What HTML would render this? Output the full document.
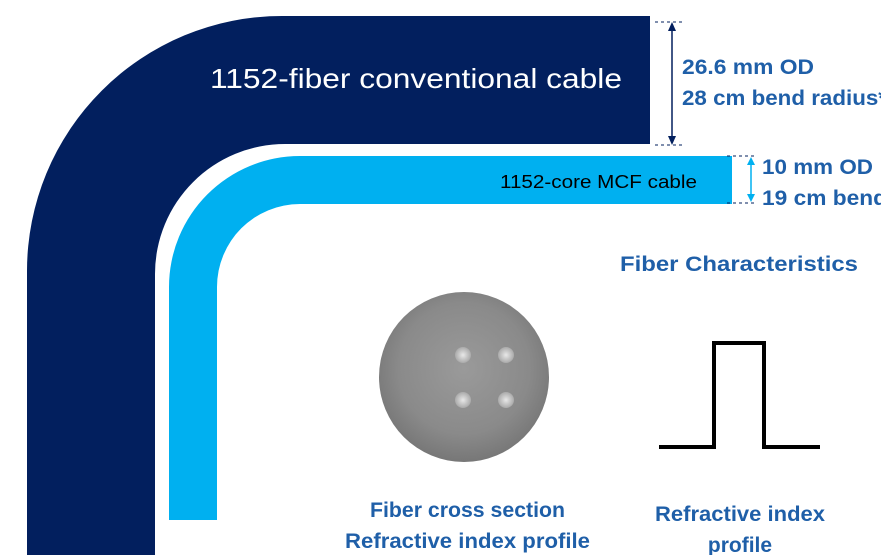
<!DOCTYPE html>
<html><head><style>
body{margin:0;background:#fff;}
svg{display:block;font-family:"Liberation Sans",sans-serif;}
.b{fill:#1f5fa8;font-weight:bold;font-size:21px;}
</style></head><body>
<svg width="881" height="555" viewBox="0 0 881 555">
<defs>
<radialGradient id="g" cx="0.5" cy="0.45" r="0.55">
<stop offset="0" stop-color="#9a9a9a"/><stop offset="0.7" stop-color="#8a8a8a"/><stop offset="1" stop-color="#777"/>
</radialGradient>
<radialGradient id="c"><stop offset="0" stop-color="#e8e8e8"/><stop offset="1" stop-color="#aaa"/></radialGradient>
</defs>
<path d="M650,16 H282 A255,255 0 0 0 27,271 V555 H155 V274 A130,130 0 0 1 285,144 H650 Z" fill="#021f5e"/>
<path d="M732,156 H300 A131,131 0 0 0 169,287 V520 H217 V287 A83,83 0 0 1 300,204 H732 Z" fill="#00b0f0"/>
<text x="210" y="88" fill="#fff" font-size="28" textLength="412" lengthAdjust="spacingAndGlyphs">1152-fiber conventional cable</text>
<text x="500" y="188" fill="#000" font-size="18" textLength="197" lengthAdjust="spacingAndGlyphs">1152-core MCF cable</text>
<g stroke="#021f5e" stroke-width="1" stroke-dasharray="3,3"><line x1="655" y1="22" x2="684" y2="22"/><line x1="655" y1="145" x2="684" y2="145"/></g>
<line x1="672" y1="28" x2="672" y2="138" stroke="#021f5e" stroke-width="1.5"/>
<polygon points="672,22 668,31 676,31" fill="#021f5e"/><polygon points="672,145 668,136 676,136" fill="#021f5e"/>
<g stroke="#021f5e" stroke-width="1" stroke-dasharray="3,3"><line x1="727" y1="156" x2="754" y2="156"/><line x1="727" y1="203" x2="754" y2="203"/></g>
<line x1="751" y1="162" x2="751" y2="197" stroke="#00b0f0" stroke-width="1.5"/>
<polygon points="751,157 747,165 755,165" fill="#00b0f0"/><polygon points="751,202 747,194 755,194" fill="#00b0f0"/>
<text class="b" x="682" y="74" textLength="132" lengthAdjust="spacingAndGlyphs">26.6 mm OD</text>
<text class="b" x="682" y="105" textLength="205" lengthAdjust="spacingAndGlyphs">28 cm bend radius*</text>
<text class="b" x="762" y="174" textLength="111" lengthAdjust="spacingAndGlyphs">10 mm OD</text>
<text class="b" x="762" y="205" textLength="125" lengthAdjust="spacingAndGlyphs">19 cm bend</text>
<text class="b" x="620" y="271" font-size="23" textLength="238" lengthAdjust="spacingAndGlyphs">Fiber Characteristics</text>
<circle cx="464" cy="377" r="85" fill="url(#g)"/>
<circle cx="463" cy="355" r="8" fill="url(#c)"/><circle cx="506" cy="355" r="8" fill="url(#c)"/>
<circle cx="463" cy="400" r="8" fill="url(#c)"/><circle cx="506" cy="400" r="8" fill="url(#c)"/>
<polyline points="659,447 714,447 714,343 764,343 764,447 820,447" fill="none" stroke="#000" stroke-width="4"/>
<text class="b" x="370" y="517" textLength="195" lengthAdjust="spacingAndGlyphs">Fiber cross section</text>
<text class="b" x="345" y="548" textLength="245" lengthAdjust="spacingAndGlyphs">Refractive index profile</text>
<text class="b" x="655" y="521" textLength="170" lengthAdjust="spacingAndGlyphs">Refractive index</text>
<text class="b" x="740" y="552" text-anchor="middle">profile</text>
</svg>
</body></html>
